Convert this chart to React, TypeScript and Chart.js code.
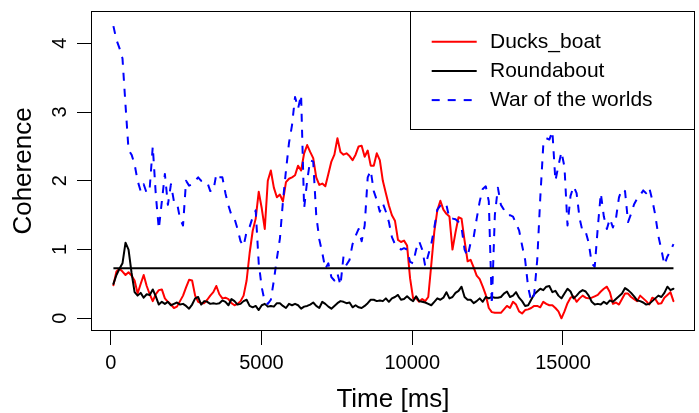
import { useEffect, useRef } from "react";
import { Chart, registerables } from "chart.js";

Chart.register(...registerables);

// ---- data (sampled every ~100 ms) ----
const SAMPLE_START_MS = 90;
const SAMPLE_STEP_MS = 100.4;

const SERIES_LABELS = ["Ducks_boat", "Roundabout", "War of the worlds"];

const duckBoat = [
  0.48, 0.68, 0.72, 0.68, 0.63, 0.67, 0.62, 0.55, 0.36,
  0.50, 0.63, 0.47, 0.35, 0.25, 0.35, 0.41, 0.42, 0.29, 0.24,
  0.20, 0.15, 0.17, 0.25, 0.33, 0.45, 0.56, 0.55, 0.33, 0.24,
  0.22, 0.22, 0.27, 0.33, 0.38, 0.47, 0.35, 0.29, 0.30, 0.28,
  0.22, 0.19, 0.21, 0.25, 0.33, 0.55, 0.95, 1.27, 1.45, 1.84,
  1.60, 1.30, 2.00, 2.15, 1.90, 1.76, 1.80, 1.70, 1.98, 2.03,
  2.05, 2.08, 2.22, 2.15, 2.40, 2.52, 2.42, 2.33, 2.05, 1.94,
  1.96, 1.92, 2.10, 2.28, 2.38, 2.62, 2.42, 2.38, 2.40, 2.36,
  2.30, 2.38, 2.50, 2.51, 2.35, 2.44, 2.22, 2.22, 2.40, 2.30,
  2.00, 1.82, 1.64, 1.50, 1.42, 1.14, 1.11, 1.13, 1.06, 0.58,
  0.29, 0.29, 0.24, 0.28, 0.25, 0.31, 0.78, 1.26, 1.57, 1.71,
  1.58, 1.52, 1.48, 1.00, 1.25, 1.47, 1.45, 1.13, 0.83, 0.85,
  0.74, 0.62, 0.57, 0.46, 0.34, 0.15, 0.09, 0.08, 0.08, 0.08,
  0.13, 0.18, 0.15, 0.24, 0.20, 0.10, 0.07, 0.12, 0.13, 0.15,
  0.18, 0.18, 0.16, 0.24, 0.21, 0.19, 0.19, 0.15, 0.10, 0.00,
  0.10, 0.22, 0.30, 0.32, 0.24, 0.29, 0.33, 0.30, 0.29, 0.30,
  0.32, 0.34, 0.39, 0.43, 0.46, 0.38, 0.21, 0.23, 0.20, 0.28,
  0.36, 0.36, 0.31, 0.28, 0.25, 0.33, 0.29, 0.25, 0.20, 0.30,
  0.28, 0.21, 0.22, 0.30, 0.34, 0.38, 0.25,
];

const roundabout = [
  0.50, 0.63, 0.72, 0.80, 1.10, 1.00, 0.66, 0.38, 0.33,
  0.37, 0.30, 0.35, 0.34, 0.42, 0.32, 0.20, 0.24, 0.21, 0.24,
  0.19, 0.21, 0.23, 0.20, 0.21, 0.18, 0.14, 0.20, 0.29, 0.31,
  0.20, 0.25, 0.24, 0.21, 0.22, 0.21, 0.22, 0.26, 0.24, 0.19,
  0.28, 0.25, 0.20, 0.21, 0.25, 0.27, 0.18, 0.16, 0.18, 0.12,
  0.19, 0.21, 0.17, 0.18, 0.17, 0.22, 0.22, 0.18, 0.15, 0.21,
  0.19, 0.21, 0.19, 0.14, 0.17, 0.18, 0.20, 0.23, 0.18, 0.15,
  0.24, 0.21, 0.17, 0.14, 0.18, 0.22, 0.25, 0.24, 0.22, 0.23,
  0.16, 0.19, 0.16, 0.15, 0.18, 0.22, 0.27, 0.27, 0.25, 0.26,
  0.25, 0.29, 0.24, 0.29, 0.31, 0.34, 0.27, 0.28, 0.32, 0.28,
  0.25, 0.32, 0.25, 0.24, 0.23, 0.21, 0.19, 0.24, 0.29, 0.27,
  0.30, 0.38, 0.29, 0.31, 0.37, 0.40, 0.46, 0.31, 0.27, 0.27,
  0.22, 0.25, 0.29, 0.24, 0.31, 0.29, 0.31, 0.30, 0.30, 0.31,
  0.36, 0.39, 0.31, 0.33, 0.38, 0.30, 0.25, 0.18, 0.19, 0.27,
  0.35, 0.39, 0.43, 0.41, 0.46, 0.47, 0.38, 0.40, 0.33, 0.29,
  0.36, 0.43, 0.39, 0.29, 0.33, 0.38, 0.41, 0.39, 0.33, 0.24,
  0.20, 0.21, 0.20, 0.24, 0.21, 0.26, 0.24, 0.28, 0.32, 0.36,
  0.44, 0.41, 0.37, 0.32, 0.26, 0.25, 0.23, 0.20, 0.21, 0.25,
  0.29, 0.33, 0.31, 0.37, 0.46, 0.41, 0.43,
];

const warOfTheWorlds = [
  4.25, 4.05, 3.93, 3.78, 3.10, 2.45, 2.38, 2.24, 2.00,
  1.85, 1.95, 1.82, 1.90, 2.50, 1.80, 1.30, 1.70, 2.10, 1.65,
  1.95, 1.70, 1.68, 1.45, 1.35, 2.00, 1.93, 1.95, 2.00, 2.05,
  2.00, 2.00, 1.98, 1.85, 1.85, 2.10, 2.05, 2.05, 1.82, 1.64,
  1.50, 1.45, 1.30, 1.12, 1.05, 1.26, 1.33, 1.47, 1.57, 0.80,
  0.45, 0.24, 0.21, 0.27, 0.55, 0.87, 1.16, 1.70, 2.15, 2.55,
  2.81, 3.22, 3.05, 3.25, 1.60, 2.00, 2.30, 2.28, 1.50, 1.15,
  0.95, 0.72, 0.80, 0.60, 0.55, 0.65, 0.48, 0.90, 0.78, 0.85,
  1.08, 1.20, 1.30, 1.12, 1.35, 2.05, 2.15, 1.85, 1.72, 1.55,
  1.67, 1.55, 1.40, 1.18, 1.08, 1.05, 1.00, 1.02, 1.00, 0.82,
  0.80, 1.00, 1.12, 1.00, 0.76, 0.92, 1.08, 1.32, 1.58, 1.64,
  1.68, 1.65, 1.45, 1.45, 1.44, 1.40, 1.32, 1.00, 0.90, 1.10,
  1.18, 1.45, 1.70, 1.88, 1.92, 1.70, 0.20, 1.50, 1.90, 1.65,
  1.58, 1.50, 1.50, 1.48, 1.38, 1.28, 1.06, 0.85, 0.45, 0.25,
  0.35, 0.85, 1.75, 2.52, 2.62, 2.60, 2.72, 2.00, 2.22, 2.42,
  2.20, 1.35, 1.78, 1.92, 1.82, 1.45, 1.26, 1.26, 1.10, 0.80,
  0.75, 1.32, 1.82, 1.48, 1.30, 1.45, 1.32, 1.45, 1.76, 1.88,
  1.85, 1.40, 1.52, 1.66, 1.74, 1.79, 1.86, 1.82, 1.90, 1.72,
  1.50, 1.20, 1.00, 0.78, 0.90, 0.98, 1.08,
];

const THRESHOLD = 0.727;

const X_TICKS = [0, 5000, 10000, 15000];
const Y_TICKS = [0, 1, 2, 3, 4];
const X_LIMITS = [-620, 19345];
const Y_LIMITS = [-0.17, 4.455];

const X_TITLE = "Time [ms]";
const Y_TITLE = "Coherence";

const FONT = "'Liberation Sans', Arial, Helvetica, sans-serif";

const toPoints = (values: number[]) =>
  values.map((v, i) => ({ x: SAMPLE_START_MS + i * SAMPLE_STEP_MS, y: v }));

const frame = {
  id: "rFrame",
  afterDraw(chart: any) {
    const { ctx, chartArea: a } = chart;
    ctx.save();
    ctx.strokeStyle = "#000";
    ctx.lineWidth = 1;
    ctx.strokeRect(a.left - 0.5, a.top - 0.5, a.right - a.left + 1, a.bottom - a.top + 1);
    ctx.restore();
  },
};

const rLegend = {
  id: "rLegend",
  afterDraw(chart: any) {
    const { ctx, chartArea: a } = chart;
    const right = a.right + 0.5;
    const left = a.right - 284 + 0.5;
    const top = a.top - 0.5;
    const bottom = a.top + 117.5;
    ctx.save();
    ctx.fillStyle = "#fff";
    ctx.fillRect(left, top, right - left, bottom - top);
    ctx.strokeStyle = "#000";
    ctx.lineWidth = 1;
    ctx.strokeRect(left, top, right - left, bottom - top);
    const sets = chart.data.datasets.filter((d: any) => !String(d.label).startsWith("_"));
    sets.forEach((d: any, i: number) => {
      const y = a.top + 29.7 + i * 29.2;
      ctx.beginPath();
      ctx.strokeStyle = d.borderColor;
      ctx.lineWidth = d.borderWidth;
      ctx.setLineDash(d.borderDash || []);
      ctx.lineCap = "butt";
      ctx.moveTo(left + 21.2, y);
      ctx.lineTo(left + 66.2, y);
      ctx.stroke();
      ctx.setLineDash([]);
      ctx.fillStyle = "#000";
      ctx.font = `21px ${FONT}`;
      ctx.textBaseline = "middle";
      ctx.textAlign = "left";
      ctx.fillText(d.label, left + 79.5, y + 0.5);
    });
    ctx.restore();
  },
};

export default function App() {
  const ref = useRef<HTMLCanvasElement | null>(null);

  useEffect(() => {
    if (!ref.current) return;
    const first = SAMPLE_START_MS;
    const last = SAMPLE_START_MS + (duckBoat.length - 1) * SAMPLE_STEP_MS;
    const common = {
      pointRadius: 0,
      borderWidth: 2,
      tension: 0,
      fill: false,
      borderJoinStyle: "round" as const,
    };
    const chart = new Chart(ref.current, {
      type: "line",
      data: {
        datasets: [
          { ...common, label: SERIES_LABELS[0], data: toPoints(duckBoat), borderColor: "#ff0000", borderCapStyle: "round", order: 4 },
          { ...common, label: SERIES_LABELS[1], data: toPoints(roundabout), borderColor: "#000000", borderCapStyle: "round", order: 3 },
          { ...common, label: SERIES_LABELS[2], data: toPoints(warOfTheWorlds), borderColor: "#0000ff", borderDash: [8, 8], borderCapStyle: "butt", order: 2 },
          { ...common, label: "_threshold", data: [{ x: first, y: THRESHOLD }, { x: last, y: THRESHOLD }], borderColor: "#000000", order: 1 },
        ] as any,
      },
      options: {
        responsive: false,
        animation: false,
        devicePixelRatio: 1,
        events: [],
        layout: { padding: { left: 0, top: 12, right: 5, bottom: 0 } },
        plugins: { legend: { display: false }, tooltip: { enabled: false } },
        scales: {
          x: {
            type: "linear",
            min: X_LIMITS[0],
            max: X_LIMITS[1],
            afterBuildTicks: (s: any) => { s.ticks = X_TICKS.map((v) => ({ value: v })); },
            afterFit: (s: any) => { s.height = 83; s.paddingLeft = 0; s.paddingRight = 0; },
            grid: { drawOnChartArea: false, drawTicks: true, tickLength: 15, color: "#000", lineWidth: 1 },
            border: { display: false },
            ticks: {
              autoSkip: false, maxRotation: 0, minRotation: 0, padding: 6.8, color: "#000",
              font: { family: FONT, size: 20 },
              callback: (v: any) => String(v),
            },
            title: { display: true, text: X_TITLE, color: "#000", font: { family: FONT, size: 26 }, padding: { top: 0, bottom: -2 } },
          },
          y: {
            type: "linear",
            min: Y_LIMITS[0],
            max: Y_LIMITS[1],
            afterBuildTicks: (s: any) => { s.ticks = Y_TICKS.map((v) => ({ value: v })); },
            afterFit: (s: any) => { s.width = 92; s.paddingTop = 0; s.paddingBottom = 0; },
            grid: { drawOnChartArea: false, drawTicks: true, tickLength: 15, color: "#000", lineWidth: 1 },
            border: { display: false },
            ticks: {
              autoSkip: false, minRotation: 90, maxRotation: 90, crossAlign: "center", padding: 11, color: "#000",
              font: { family: FONT, size: 20 },
              callback: (v: any) => String(v),
            },
            title: { display: true, text: Y_TITLE, color: "#000", font: { family: FONT, size: 26 }, padding: { top: 8.7, bottom: 0 } },
          },
        },
      } as any,
      plugins: [frame, rLegend],
    });
    return () => chart.destroy();
  }, []);

  return (
    <div style={{ position: "fixed", left: 0, top: 0, width: 699, height: 413, background: "#fff" }}>
      <canvas ref={ref} width={699} height={413} style={{ display: "block" }} />
    </div>
  );
}
